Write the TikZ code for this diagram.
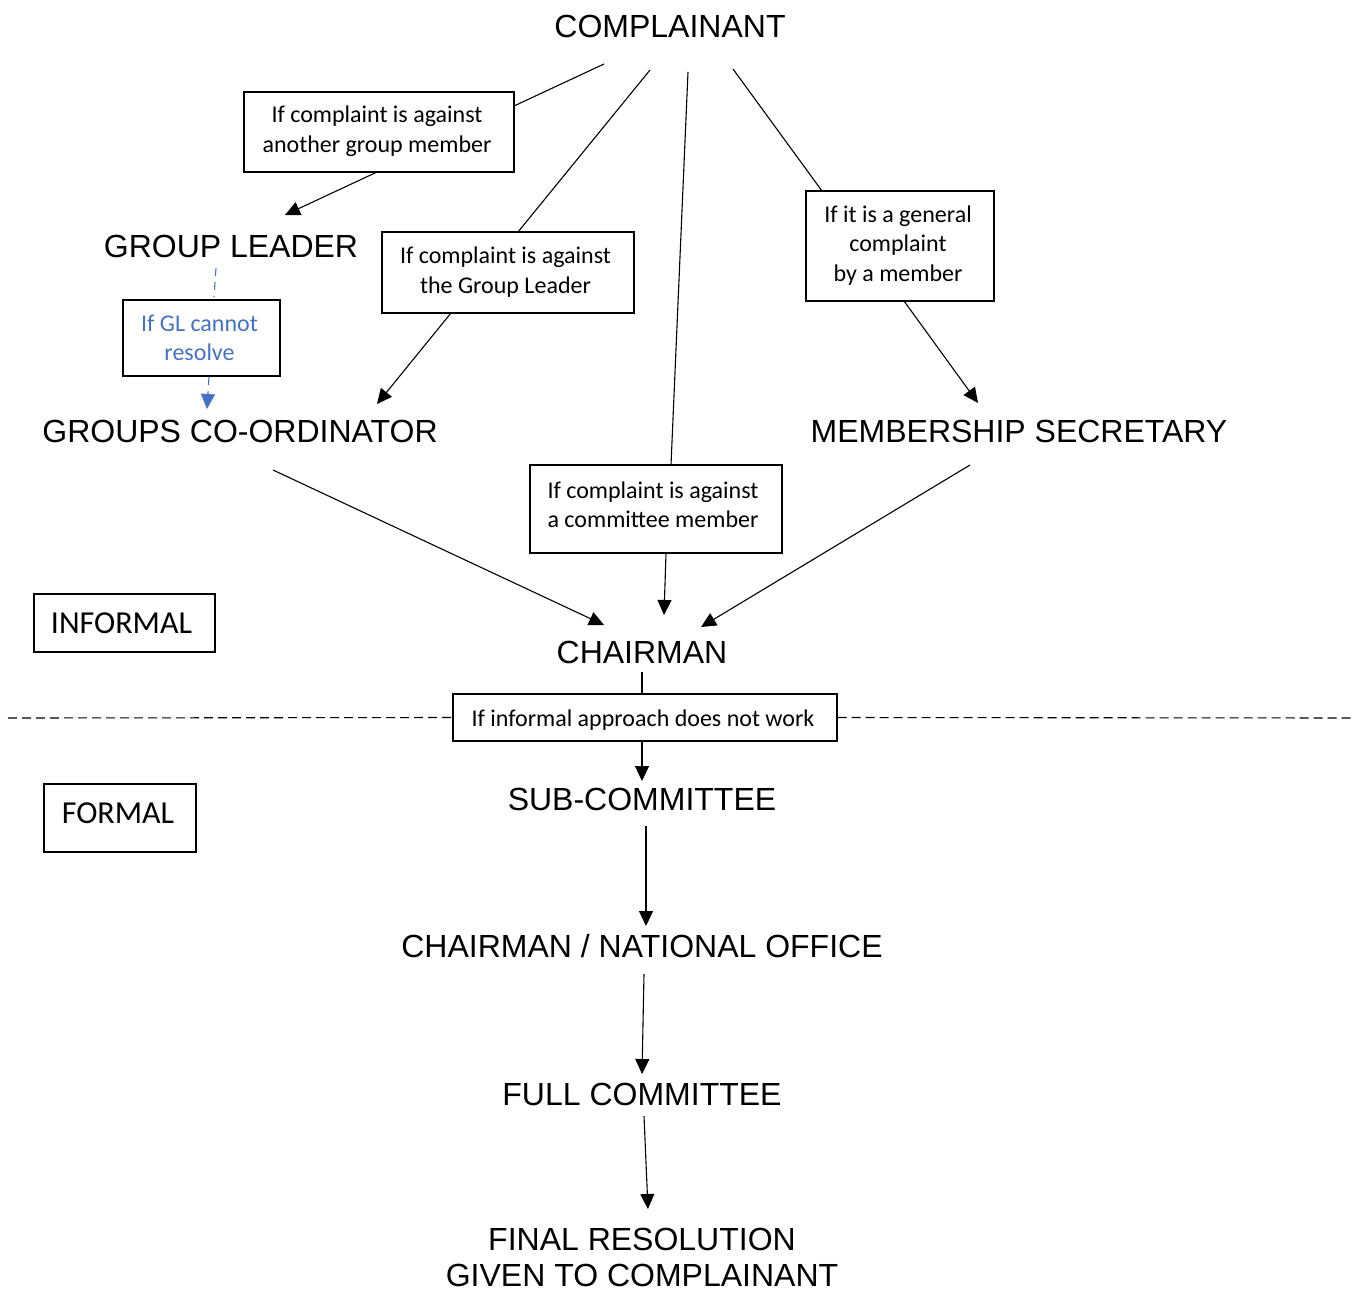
\documentclass[tikz,border=0pt]{standalone}
\usepackage{fontspec}
\setmainfont{Liberation Sans}
\newfontfamily\calfont{Carlito}
\usetikzlibrary{arrows.meta}
\definecolor{gblue}{RGB}{68,114,196}
\tikzset{
  big/.style={font=\fontsize{32}{36}\selectfont, inner sep=0pt, align=center},
  bx/.style={draw, line width=1.1pt, font=\calfont\fontsize{24}{29.5}\selectfont, align=center, inner sep=0pt},
  txt/.style={font=\calfont\fontsize{24}{29.5}\selectfont, align=center, inner sep=0pt},
  tag/.style={font=\calfont\fontsize{32}{36}\selectfont, inner sep=0pt},
  ln/.style={line width=1.1pt},
  ar/.style={line width=1.1pt, -{Triangle[length=15pt,width=14pt]}},
  bar/.style={line width=1.1pt, gblue, dash pattern=on 8pt off 6pt, -{Triangle[length=15pt,width=14pt]}},
}
\begin{document}
\begin{tikzpicture}[x=1pt,y=-1pt]
\useasboundingbox (0,0) rectangle (1361,1291);
% labels
\node[big] (comp) at (670,26) {COMPLAINANT};
\node[big] (gl) at (231,246) {GROUP LEADER};
\node[big] (gc) at (240,431) {GROUPS CO-ORDINATOR};
\node[big] (ms) at (1019,431) {MEMBERSHIP SECRETARY};
\node[big] (ch) at (642,652) {CHAIRMAN};
\node[big] (sc) at (642,799) {SUB-COMMITTEE};
\node[big] (cn) at (642,946) {CHAIRMAN / NATIONAL OFFICE};
\node[big] (fc) at (642,1094) {FULL COMMITTEE};
\node[big] (fr) at (642,1257) {FINAL RESOLUTION\\GIVEN TO COMPLAINANT};
% boxes
\node[bx, minimum width=270pt, minimum height=80pt] (b1) at (379,132) {};
\node[txt] (b1t) at (377,131) {If complaint is against\\another group member};
\node[bx, minimum width=157pt, minimum height=76pt, text=gblue] (bgl) at (201.5,338) {};
\node[txt, text=gblue] (bglt) at (199.5,338) {If GL cannot\\resolve};
\node[bx, minimum width=252pt, minimum height=81pt] (b2) at (508,272.5) {};
\node[txt] (b2t) at (505.5,272) {If complaint is against\\the Group Leader};
\node[bx, minimum width=188pt, minimum height=110pt] (b3) at (900,246) {};
\node[txt] (b3t) at (898,245.5) {If it is a general\\complaint\\by a member};
\node[bx, minimum width=252pt, minimum height=88pt] (b4) at (656,509) {};
\node[txt] (b4t) at (653,504.5) {If complaint is against\\a committee member};
\node[bx, minimum width=384pt, minimum height=47pt] (b5) at (645,717.5) {};
\node[txt] (b5t) at (643,720) {If informal approach does not work};
\node[bx, minimum width=181pt, minimum height=58pt] (inf) at (124.5,623) {};
\node[tag] (inft) at (121.5,623) {INFORMAL};
\node[bx, minimum width=152pt, minimum height=68pt] (frm) at (120,818) {};
\node[tag] (frmt) at (118,813) {FORMAL};
% coordinates
\coordinate (c1) at (604,64);
\coordinate (c2) at (650,70);
\coordinate (c3) at (688,72);
\coordinate (c4) at (733,69);
\coordinate (t1) at (285,215);
\coordinate (t2) at (377,404);
\coordinate (t3) at (978,403);
\coordinate (t4) at (664,615);
\coordinate (gcs) at (273,470);
\coordinate (mss) at (970,465);
\coordinate (tch1) at (604,625);
\coordinate (tch2) at (701,627);
\coordinate (chb) at (642,672);
% connectors
\draw[ln] (c1) -- (514,106);
\draw[ar] (377,172) -- (t1);
\draw[ln] (c2) -- (518,232);
\draw[ar] (451,313) -- (t2);
\draw[ln] (c4) -- (822,191);
\draw[ar] (904,301) -- (t3);
\draw[ln] (c3) -- (671,465);
\draw[ar] (666,553) -- (t4);
\draw[bar] (216,268) -- (214,297) (209,377) -- (207,409);
\draw[ar] (gcs) -- (tch1);
\draw[ar] (mss) -- (tch2);
\draw[ln] (chb) -- (chb |- b5.north);
\draw[ar] (chb |- b5.south) -- (642,781);
\draw[ln, dash pattern=on 9pt off 5pt] (8,718) -- (b5.west);
\draw[ln, dash pattern=on 9pt off 5pt] (b5.east) -- (1355,718);
\draw[ar] (646,826) -- (646,926);
\draw[ar] (644,974) -- (642,1074);
\draw[ar] (644,1116) -- (648,1209);
\end{tikzpicture}
\end{document}
